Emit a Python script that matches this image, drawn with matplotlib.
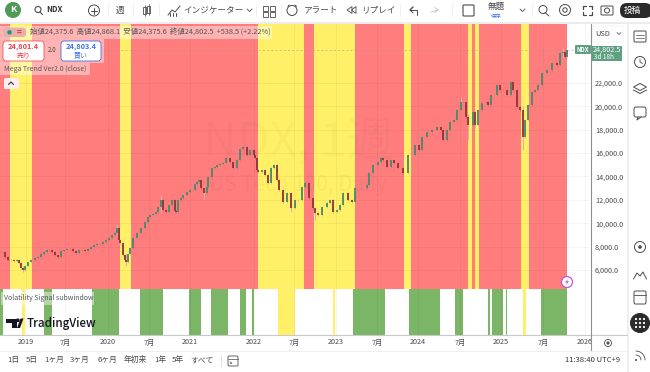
import numpy as np
import matplotlib
matplotlib.use("Agg")
import matplotlib.pyplot as plt
from matplotlib.patches import Rectangle, Circle, FancyBboxPatch, Polygon

plt.rcParams['font.family'] = ['Noto Sans CJK JP', 'DejaVu Sans']

# chart data, x is the position along the time scale
bar_x = [0, 2, 5, 8, 11, 14, 17, 19, 21, 23, 25, 28, 31, 35, 38, 41, 44, 47, 49, 52, 55, 58, 61, 64, 67, 70, 73, 76,
         79, 82, 85, 88, 91, 94, 97, 100, 103, 106, 109, 112, 115, 117, 119, 120, 123, 125, 126, 128, 130, 133, 137,
         141, 145, 148, 150, 153, 156, 158, 161, 163, 166, 169, 172, 175, 176, 178, 181, 183, 187, 190, 192, 195, 197,
         199, 201, 204, 207, 208, 212, 215, 217, 220, 223, 226, 230, 233, 237, 240, 243, 247, 250, 252, 254, 255, 257,
         258, 262, 265, 268, 271, 274, 277, 279, 283, 287, 291, 295, 298, 302, 305, 309, 313, 315, 318, 322, 327, 330,
         333, 337, 340, 343, 348, 352, 355, 360, 367, 369, 373, 378, 381, 383, 387, 391, 394, 398, 403, 408, 415, 419,
         422, 427, 432, 437, 441, 443, 447, 450, 454, 457, 461, 463, 466, 468, 473, 475, 478, 482, 487, 488, 491, 497,
         500, 503, 507, 511, 513, 517, 520, 523, 525, 528, 532, 535, 538, 542, 547, 552, 557, 560, 563, 565, 567]
closes = [7540, 7540, 7110, 6860, 6860, 6770, 6860, 6600, 6170, 6000, 6340, 6680, 6860, 7030, 7110, 7370, 7540, 7710,
          7710, 7540, 7280, 7110, 7620, 7710, 7800, 7800, 7620, 7450, 7710, 7710, 7620, 7800, 7970, 8140, 8220, 8220,
          8390, 8560, 8740, 8990, 9160, 9590, 8560, 8310, 7280, 6860, 6680, 7370, 7880, 8740, 9160, 9590, 10100, 10530,
          10700, 10790, 10960, 11380, 11980, 11130, 10960, 11560, 11980, 11040, 10960, 11980, 12150, 12410, 12670,
          12840, 12840, 13350, 13520, 13690, 13000, 12580, 13090, 13950, 14720, 14800, 14970, 15060, 15150, 15570,
          15230, 14720, 15400, 16340, 16510, 15830, 16260, 16260, 15830, 15570, 14550, 14380, 14550, 14120, 13440,
          14720, 14970, 13690, 12840, 11810, 12580, 11300, 11980, 11980, 13090, 13440, 12150, 11300, 10870, 10700,
          11380, 11730, 11980, 10960, 11130, 11560, 12580, 11980, 11810, 13010, 13010, 13270, 14290, 14970, 15230,
          15570, 15400, 14800, 15400, 15150, 14720, 14290, 15830, 16680, 16260, 17370, 17800, 17970, 18220, 17970,
          17110, 17970, 18650, 18820, 19680, 20360, 20360, 19080, 18390, 19500, 18390, 19680, 20270, 20360, 20100,
          20960, 21810, 21380, 21380, 20960, 22070, 21380, 19930, 19680, 17370, 18820, 20100, 21210, 21380, 21810,
          22840, 23090, 23690, 23520, 24550, 24630, 24200, 24800]

# bars with a long wick
wick_x = [23, 117, 126, 161, 204, 291, 315, 461, 468, 475, 523, 563]
wick_hi = [6340, 9900, 7400, 12400, 13200, 11700, 11100, 20800, 19300, 19000, 20000, 25100]
wick_lo = [5800, 9100, 6350, 11000, 12100, 11000, 10300, 19900, 17100, 18100, 16250, 24100]

yellow_start = [9.5, 120, 258, 314, 404.3, 467.7, 475, 521.3]
yellow_end = [31.5, 131, 304, 355, 410.7, 472, 479, 529]
red_start = [0, 31.5, 131, 304, 355, 410.7, 472, 479, 529]
red_end = [9.5, 120, 258, 314, 404.3, 467.7, 475, 521.3, 567]

green_start = [0, 44, 92, 139.5, 188.7, 211, 240, 252, 353.3, 409, 454.7, 488.3, 491.7, 506, 540.7]
green_end = [3, 52, 119, 163, 201, 228, 245.5, 254, 385, 440, 462.7, 490, 502.7, 507, 567]
sub_yellow_start = [22, 278, 333, 523]
sub_yellow_end = [25, 295, 335, 526]

price_ticks = [6000, 8000, 10000, 12000, 14000, 16000, 18000, 20000, 22000]
time_ticks = [25.5, 65, 108, 149, 190, 254, 294, 336, 377, 418, 460, 501, 543, 585]
time_labels = ['2019', '7月', '2020', '7月', '2021', '2022', '7月', '2023', '7月', '2024', '7月', '2025', '7月', '2026']

range_labels = ['1日', '5日', '1ヶ月', '3ヶ月', '6ヶ月', '年初来', '1年', '5年', 'すべて']
range_x = [13, 32, 54, 80, 107, 135, 160, 178, 202]

RED_BAND = "#ff7d7d"
YELLOW_BAND = "#fff067"
GREEN_BAND = "#7bb566"
UP = "#4a8a6c"
DOWN = "#93343c"
TEXT = "#4a4a4a"
TAG = "#5f9f82"

W, H = 650, 372
fig = plt.figure(figsize=(6.5, 3.72), dpi=100, facecolor="white")


def ax_px(x0, y0, x1, y1, **kw):
    return fig.add_axes([x0 / W, 1 - y1 / H, (x1 - x0) / W, (y1 - y0) / H], **kw)


# ---- main pane
ax = ax_px(0, 24, 590, 289)
ax.set_xlim(0, 590)
ax.set_ylim(4376, 27026)
for s in ax.spines.values():
    s.set_visible(False)
for a, b in zip(red_start, red_end):
    ax.axvspan(a, b, color=RED_BAND, lw=0, zorder=1)
for a, b in zip(yellow_start, yellow_end):
    ax.axvspan(a, b, color=YELLOW_BAND, lw=0, zorder=1)
for t in time_ticks:
    ax.axvline(t, color="#000000", alpha=0.04, lw=0.7, zorder=2)
for p in price_ticks:
    ax.axhline(p, color="#000000", alpha=0.04, lw=0.7, zorder=2)
ax.axhline(24802.5, color="#9a9a9a", lw=0.5, ls=(0, (3, 3)), alpha=0.7, zorder=2)

ax.text(298, 16900, "NDX, 1週", fontsize=34, color="#000000", alpha=0.022, ha="center", va="center", zorder=2)
ax.text(298, 13300, "US Tech 100, Daily", fontsize=15, color="#000000", alpha=0.03, ha="center", va="center", zorder=2)

bar_x = np.array(bar_x, dtype=float)
closes = np.array(closes, dtype=float)
opens = np.r_[closes[0], closes[:-1]]
colors = [UP if c >= o else DOWN for o, c in zip(opens, closes)]
ax.vlines(bar_x, np.minimum(opens, closes) - 110, np.maximum(opens, closes) + 110, colors=colors, lw=0.4,
          alpha=0.5, zorder=3)
for wx, hi, lo in zip(wick_x, wick_hi, wick_lo):
    ax.vlines(wx, lo, hi, color="#e0b0a8", lw=0.8, zorder=3)
ax.bar(bar_x, closes - opens, bottom=opens, width=1.5, color=colors, lw=0, alpha=0.92, zorder=4)

ax.yaxis.tick_right()
ax.set_yticks(price_ticks)
ax.set_yticklabels([f"{p:,.1f}" for p in price_ticks], fontsize=5.2, color=TEXT)
ax.tick_params(axis="y", length=0, pad=3.6)
ax.set_xticks([])

# ---- signal pane
sub = ax_px(0, 289, 590, 335)
sub.set_xlim(0, 590)
sub.set_ylim(0, 1)
sub.set_yticks([])
for s in sub.spines.values():
    s.set_visible(False)
for a, b in zip(green_start, green_end):
    sub.axvspan(a, b, color=GREEN_BAND, lw=0, zorder=1)
for a, b in zip(sub_yellow_start, sub_yellow_end):
    sub.axvspan(a, b, color=YELLOW_BAND, lw=0, zorder=1)
for t in time_ticks:
    sub.axvline(t, color="#000000", alpha=0.04, lw=0.7, zorder=2)
sub.set_xticks(time_ticks)
sub.set_xticklabels(time_labels, fontsize=5.2, color=TEXT)
sub.tick_params(axis="x", length=0, pad=2.5)

# ---- everything around the chart, in pixels of the picture
ui = fig.add_axes([0, 0, 1, 1], zorder=10)
ui.set_xlim(0, W)
ui.set_ylim(H, 0)
ui.axis("off")
ui.patch.set_alpha(0)


def rect(x0, y0, x1, y1, color="white", alpha=1, ec="none", lw=0, z=1):
    ui.add_patch(Rectangle((x0, y0), x1 - x0, y1 - y0, fc=color, alpha=alpha, ec=ec, lw=lw, zorder=z))


def rbox(x0, y0, x1, y1, fc="white", ec="none", lw=0.6, r=2, z=3, alpha=1):
    ui.add_patch(FancyBboxPatch((x0 + r, y0 + r), x1 - x0 - 2 * r, y1 - y0 - 2 * r,
                                boxstyle=f"round,pad={r}", fc=fc, ec=ec, lw=lw, zorder=z, alpha=alpha))


def txt(x, y, s, size=5.6, color=TEXT, ha="center", weight="normal", z=5):
    ui.text(x, y, s, fontsize=size, color=color, ha=ha, va="center", weight=weight, zorder=z)


def ring(x, y, r, color=TEXT, lw=0.7, fc="none", z=4):
    ui.add_patch(Circle((x, y), r, fc=fc, ec=color, lw=lw, zorder=z))


def line(xs, ys, color=TEXT, lw=0.7, z=4):
    ui.plot(xs, ys, color=color, lw=lw, zorder=z, solid_capstyle="round")


# toolbar
rect(0, 0, W, 22)
rect(0, 22, W, 24, color="#ececec")
ring(13, 10, 7.5, color="#4f9a57", fc="#4f9a57")
txt(13, 10, "K", size=6.5, color="white", weight="bold")
ring(38, 9.5, 3, lw=0.8)
line([40, 42.5], [12, 14.5], lw=0.8)
txt(46, 10, "NDX", size=5.6, color="#333333", ha="left", weight="bold")
ring(94, 10.5, 5.5)
line([91, 97], [10.5, 10.5])
line([94, 94], [7.5, 13.5])
txt(120.5, 10, "週", size=6.2)
for x, y0, y1 in [(144.5, 7, 14), (148.5, 6, 13)]:
    rect(x - 1.2, y0, x + 1.2, y1, color="white", ec=TEXT, lw=0.6, z=4)
    line([x, x], [y0 - 2, y1 + 2], lw=0.5)
line([168, 172, 175, 180], [15, 10, 12, 6], lw=0.7)
for x in [170, 173, 176]:
    line([x, x], [13, 16], lw=0.7)
txt(183, 10, "インジケーター", size=6.2, ha="left")
line([247, 249.5, 252], [9, 11.5, 9], lw=0.6)
for x in [263, 270]:
    for y in [6, 12]:
        rect(x, y, x + 4.5, y + 4.5, color="white", ec=TEXT, lw=0.6, z=4)
ring(292, 10.5, 5)
line([289, 288], [5, 6.5])
line([295, 296.5], [5, 6.5])
txt(304, 10, "アラート", size=6.2, ha="left")
ui.add_patch(Polygon([[352, 6.5], [347, 10], [352, 13.5]], fc="none", ec=TEXT, lw=0.6, zorder=4))
ui.add_patch(Polygon([[356, 6.5], [351.5, 10], [356, 13.5]], fc="none", ec=TEXT, lw=0.6, zorder=4))
txt(361, 10, "リプレイ", size=6.2, ha="left")
line([410, 417, 417], [10, 10, 15], lw=0.7)
line([410, 413, 410, 413], [10, 7, 10, 13], lw=0.7)
line([431, 438], [12, 10], color="#c6c6c6")
line([435, 438, 435], [7.5, 10, 12.5], color="#c6c6c6")
rbox(463, 5, 474, 16, fc="white", ec=TEXT, lw=0.8, r=1)
txt(496, 6.5, "無題", size=6.2)
txt(496, 16.5, "保存", size=3.8, color="#3d78e0")
line([520, 522.5, 525], [9, 11.5, 9], lw=0.6)
ring(543, 9.5, 4)
line([545, 549], [12.5, 16])
ring(565, 10, 5.5)
ring(565, 10, 2.2)
for xs, ys in [([583, 583, 586], [9, 6, 6]), ([589, 592, 592], [6, 6, 9]), ([592, 592, 589], [12, 15, 15]), ([586, 583, 583], [15, 15, 12])]:
    line(xs, ys, lw=0.9)
rbox(601, 6, 613, 15, fc="white", ec=TEXT, lw=0.7, r=1)
ring(607, 10.5, 2.5)
rbox(620, 3, 652, 18, fc="#2a2a2a", r=7)
txt(632, 10, "投稿", size=6.2, color="white")
for x in [108, 133, 159, 256, 281, 400, 452, 532]:
    line([x, x], [4, 16], color="#ececec", lw=0.6, z=2)

# legend overlays
rect(0, 26, 272, 39, alpha=0.42, z=2)
rbox(3, 27.5, 26, 37, fc="#e8b0aa", r=3)
ring(9.5, 32.3, 2, color="#1d9a7c", fc="#1d9a7c", lw=0.3)
txt(19.5, 32, "=", size=6, color="#e03a3a", weight="bold")
txt(30, 32, "始値24,375.6  高値24,868.1  安値24,375.6  終値24,802.5  +538.5 (+2.22%)", size=5.3, color="#555555", ha="left")
rect(0, 39, 104, 63, alpha=0.42, z=2)
rbox(3, 41, 44, 61, fc="white", ec="#ef5350", lw=0.6, r=3)
txt(23.5, 47, "24,801.4", size=5.3, color="#ef3f4a", weight="bold")
txt(23.5, 55, "売り", size=5, color="#ef3f4a")
txt(52.5, 50.5, "2.0", size=4.5, color="#444444")
rbox(61, 41, 101, 61, fc="white", ec="#3f6fe8", lw=0.6, r=3)
txt(81, 47, "24,803.4", size=5.3, color="#3d72ea", weight="bold")
txt(81, 55, "買い", size=5, color="#3d72ea")
rect(0, 63, 90, 75, alpha=0.42, z=2)
txt(4, 69, "Mega Trend Ver2.0 (close)", size=5, color="#555555", ha="left")
rbox(4, 78, 19, 89, fc="#ffeeee", r=1.5)
line([8.5, 11, 13.5], [84.5, 82, 84.5], color="#333333", lw=0.8)

# price scale
rbox(593, 26, 623, 42, fc="white", ec="#eeeeee", lw=0.5, r=1)
txt(595, 33.5, "USD", size=5.3, color="#444444", ha="left")
line([617, 619, 621], [32.5, 34.5, 32.5], lw=0.5)
rbox(575, 45, 591, 54, fc=TAG, r=1)
txt(583, 49.8, "NDX", size=4.3, color="white", weight="bold")
rect(591, 46, 622, 61, color=TAG, z=3)
txt(606.5, 49.8, "24,802.5", size=5.2, color="white")
txt(604, 57, "3d 18h", size=4.6, color="white")

# lightning mark
ring(567, 282, 5.5, color="#b45cd8", fc="white", lw=0.9)
ui.add_patch(Polygon([[568.5, 278.5], [565, 282.5], [567, 282.5], [565.7, 285.5], [569, 281.2], [567, 281.2]],
                     fc="#b45cd8", ec="none", zorder=5))

# signal pane label and logo
rect(1, 292, 94, 305, alpha=0.45, z=2)
txt(4, 298.5, "Volatility Signal subwindow", size=5, color="#555555", ha="left")
ui.add_patch(Polygon([[6, 318.5], [16.5, 318.5], [16.5, 328], [12, 328], [12, 322.5], [6, 322.5]], fc="#131722", ec="none", zorder=5))
ring(17.8, 320.3, 1.9, color="#131722", fc="#131722", lw=0)
ui.add_patch(Polygon([[17, 328], [20.5, 318.5], [23.5, 318.5], [20, 328]], fc="#131722", ec="none", zorder=5))
txt(27, 323, "TradingView", size=8.4, color="#131722", ha="left", weight="medium")

# lines and bottom bar
line([0, 627], [335, 335], color="#c9c9c9", lw=0.8)
rect(590.5, 335, 627, 350, z=2)
rect(0, 351, W, H, z=2)
line([0, 627], [350.5, 350.5], color="#ececec", lw=0.6)
line([590.5, 590.5], [24, 350], color="#8f8f8f", lw=0.8)
ring(608, 343, 3.5, lw=0.6)
ring(608, 343, 1.2, lw=0.5, fc=TEXT)
for x, s in zip(range_x, range_labels):
    txt(x, 360, s, size=5.6)
line([220.5, 220.5], [354, 366], color="#dddddd", lw=0.6)
rbox(228, 356, 238, 366, fc="white", ec=TEXT, lw=0.6, r=1)
line([228, 238], [359, 359], lw=0.5)
line([230, 232, 230], [362, 363, 364], lw=0.5)
txt(620, 360, "11:38:40 UTC+9", size=5.5, color="#333333", ha="right")

# side bar
rect(627, 24, W, H, z=3)
line([627.5, 627.5], [24, H], color="#ececec", lw=1.2, z=3)
rbox(634, 31, 646, 42, fc="white", ec=TEXT, lw=0.7, r=1, z=4)
line([636, 644], [35, 35], lw=0.5)
line([636, 644], [38, 38], lw=0.5)
ring(640, 62, 5.5)
line([640, 640, 642.5], [59, 62, 63.5], lw=0.6)
ui.add_patch(Polygon([[633.5, 87], [640, 83.5], [646.5, 87], [640, 90.5]], fc="none", ec=TEXT, lw=0.7, zorder=4))
line([633.5, 640, 646.5], [90, 93.5, 90], lw=0.7)
rbox(634, 107, 646, 117, fc="white", ec=TEXT, lw=0.7, r=2, z=4)
line([638, 637, 641], [117, 120, 117], lw=0.7)
ring(640, 247, 5.5)
ring(640, 247, 1.3, fc=TEXT)
line([633.5, 637, 640, 643, 646.5], [279, 273, 276, 272, 279], lw=0.7)
rbox(634, 291, 646, 304, fc="white", ec=TEXT, lw=0.7, r=1.5, z=4)
line([634, 646], [295, 295], lw=0.6)
ring(640, 323, 9.5, color="#2a2a2a", fc="#2a2a2a")
for gx in [636, 640, 644]:
    for gy in [319, 323, 327]:
        ring(gx, gy, 1.1, color="white", fc="white", lw=0, z=5)
ring(636, 360, 1, fc=TEXT, lw=0)
for r in [5, 9]:
    th = np.radians(np.arange(-90, 1, 15))
    line(636 + r * np.cos(th), 360 + r * np.sin(th), lw=0.6)

fig.savefig("out.png", dpi=100)
